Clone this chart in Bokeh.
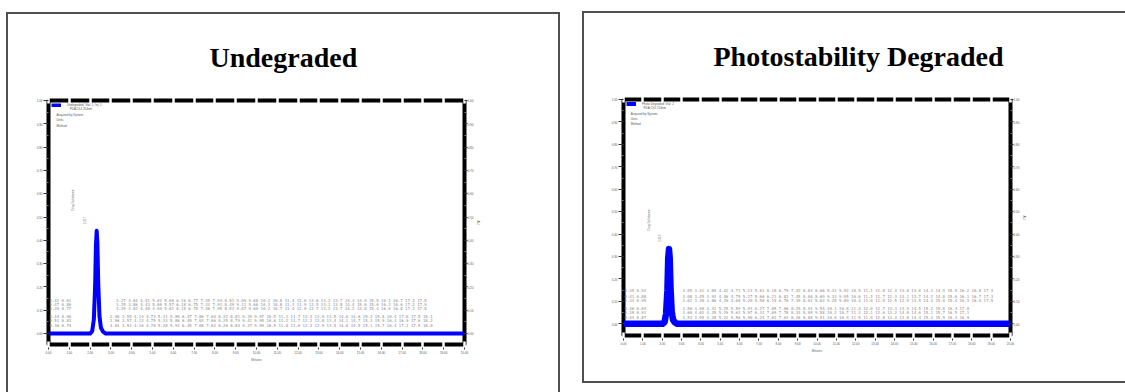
from math import pi

from bokeh.core.properties import value
from bokeh.embed import file_html
from bokeh.layouts import column, row
from bokeh.models import FixedTicker, LinearAxis, NumeralTickFormatter, Spacer
from bokeh.plotting import figure
from bokeh.resources import INLINE

# ---------------------------------------------------------------------------
# Chromatogram traces: retention time (min) and absorbance (AU)
# ---------------------------------------------------------------------------
undeg_time = [0.00, 2.00, 2.10, 2.18, 2.24, 2.28, 2.317, 2.35, 2.39, 2.45, 2.52, 2.62, 2.75, 20.00]
undeg_abs = [0.000, 0.000, 0.010, 0.060, 0.200, 0.380, 0.441, 0.390, 0.220, 0.075, 0.025, 0.008, 0.000, 0.000]

photo_time = [0.00, 2.02, 2.12, 2.20, 2.27, 2.31, 2.352, 2.39, 2.43, 2.49, 2.56, 2.66, 2.78, 20.00]
photo_abs = [0.000, 0.000, 0.008, 0.045, 0.150, 0.290, 0.333, 0.290, 0.160, 0.055, 0.018, 0.006, 0.000, 0.000]

undeg_rt = "2.317"
photo_rt = "2.352"
peak_name = "Drug Substance"

x_ticks = [0, 1, 2, 3, 4, 5, 6, 7, 8, 9, 10, 11, 12, 13, 14, 15, 16, 17, 18, 19, 20]
y_ticks = [0.0, 0.1, 0.2, 0.3, 0.4, 0.5, 0.6, 0.7, 0.8, 0.9, 1.0]
y_minor = [0.05, 0.15, 0.25, 0.35, 0.45, 0.55, 0.65, 0.75, 0.85, 0.95]

# header block printed in the upper-left corner of each plot
undeg_header = ["Undegraded; Vial: 1; Inj: 1", "PDA Ch1 254nm", "Acquired by System", "Units", "Method"]
photo_header = ["Photo Degraded; Vial: 2", "PDA Ch1 254nm", "Acquired by System", "Units", "Method"]

# retention-time labels of the small baseline peaks
undeg_rows_left = ["0.42 0.81", "0.47 0.86", "0.39 0.77", "0.44 0.90", "0.51 0.83", "0.36 0.79"]
undeg_rows = [
    "3.27 3.84 4.41 5.02 5.60 6.16 6.77 7.35  7.93 8.51  9.09 9.68 10.2 10.8 11.4 12.0 12.6  13.2 13.7 14.3  14.9 15.5 16.1  16.7  17.3 17.8",
    "3.25 3.86 4.43 5.00 5.57 6.18 6.75 7.33  7.91 8.49  9.11 9.66 10.3 10.8 11.3 11.9 12.5  13.1 13.8 14.4  15.0 15.6 16.2  16.6  17.2 17.9",
    "3.29 3.82 4.40 4.99 5.61 6.15 6.78 7.36  7.95 8.53  9.07 9.69 10.2 10.7 11.4 12.0 12.7  13.2 13.7 14.2  14.8 15.4 16.0  16.8  17.3 17.8",
    " 2.98 3.55 4.14 4.72 5.31 5.89 6.47 7.06  7.64 8.22  8.81 9.39 9.97 10.5 11.1 11.7 12.3 12.9 13.5 14.0 14.6 15.2 15.8 16.4 17.0 17.5 18.1",
    " 2.96 3.57 4.12 4.75 5.33 5.86 6.49 7.03  7.66 8.25  8.79 9.41 9.95 10.6 11.2 11.7 12.2 12.8 13.4 14.1 14.7 15.3 15.9 16.3 16.9 17.6 18.2",
    " 3.01 3.53 4.16 4.70 5.28 5.91 6.45 7.08  7.62 8.20  8.84 9.37 9.99 10.5 11.0 11.6 12.3 12.9 13.5 14.0 14.5 15.1 15.7 16.4 17.1 17.5 18.0",
]

photo_rows_left = ["0.35 0.92", "0.41 0.88", "0.33 0.95", "0.46 0.84", "0.38 0.91", "0.43 0.87"]
photo_rows = [
    "3.05  3.41  3.89  4.42 4.71  5.23 5.61  6.18 6.79 7.42 8.03 8.66 9.31 9.92 10.5 11.1 11.8 12.4 13.0 13.6 14.3 14.9 15.5 16.2 16.8 17.4",
    "3.08  3.45  3.93  4.46 4.75  5.27 5.66  6.21 6.83 7.45 8.08 8.69 9.33 9.95 10.6 11.2 11.7 12.3 13.1 13.7 14.2 14.8 15.6 16.1 16.7 17.3",
    "3.02  3.38  3.86  4.39 4.68  5.20 5.58  6.15 6.76 7.39 8.01 8.63 9.28 9.89 10.4 11.0 11.9 12.5 12.9 13.5 14.4 15.0 15.4 16.3 16.9 17.5",
    "   3.56 3.98 4.31  5.25 5.59 5.93 6.27  7.05 7.66 8.29 8.91 9.54 10.1 10.8 11.4 12.0 12.7 13.3 13.9 14.5 15.2 15.8 16.4 17.0",
    "   3.60 4.02 4.35  5.29 5.63 5.97 6.31  7.09 7.70 8.33 8.95 9.58 10.2 10.7 11.3 12.1 12.6 13.2 14.0 14.6 15.1 15.7 16.5 17.1",
    "   3.53 3.95 4.28  5.22 5.56 5.90 6.24  7.02 7.63 8.26 8.88 9.51 10.0 10.9 11.5 11.9 12.8 13.4 13.8 14.4 15.3 15.9 16.3 16.9",
]

BLUE = "#0000ff"
SMALL_FONT = "Liberation Sans"
MONO_FONT = "DejaVu Sans Mono"
BOX_LINE = "2px solid #505050"


def style_axis(ax, tick_out=5, standoff=1):
    ax.axis_line_color = None
    ax.major_tick_line_color = "#333333"
    ax.major_tick_line_width = 1
    ax.major_tick_out = tick_out
    ax.major_tick_in = 0
    ax.minor_tick_line_color = "#777777"
    ax.minor_tick_out = 2
    ax.minor_tick_in = 0
    ax.major_label_text_font = SMALL_FONT
    ax.major_label_text_font_size = "3px"
    ax.major_label_text_color = "#555555"
    ax.major_label_standoff = standoff
    ax.axis_label_text_font = SMALL_FONT
    ax.axis_label_text_font_size = "3px"
    ax.axis_label_text_font_style = "normal"
    ax.axis_label_text_color = "#666666"
    ax.axis_label_standoff = 2


def notch(ax):
    # white minor ticks cut small gaps through the heavy frame line
    ax.minor_tick_line_color = "white"
    ax.minor_tick_line_width = 2.5
    ax.minor_tick_in = 3
    ax.minor_tick_out = 3


def chromatogram(title, title_offset, width, height, borders, y_min,
                 t, a, line_w, rt, header, header_pos, rt_pos,
                 rows_left, rows, rows_x, rows_y):
    left, right, top, bottom = borders
    p = figure(width=width, height=height, x_range=(0, 20), y_range=(y_min, 1.0),
               output_backend="svg", toolbar_location=None,
               min_border_left=left, min_border_right=right,
               min_border_top=top, min_border_bottom=bottom,
               x_axis_label="Minutes")
    p.title.text = title
    p.title.align = "left"
    p.title.offset = title_offset
    p.title.standoff = 50
    p.title.vertical_align = "bottom"
    p.title.text_font = "Liberation Serif"
    p.title.text_font_size = "28px"
    p.title.text_font_style = "bold"
    p.title.text_color = "black"

    p.background_fill_color = "white"
    p.border_fill_color = "white"
    p.outline_line_color = "black"
    p.outline_line_width = 4
    p.outline_line_alpha = 1.0
    p.xgrid.visible = False
    p.ygrid.visible = False

    bottom_axis = p.below[0]
    left_axis = p.left[0]
    right_axis = LinearAxis(axis_label="AU")
    p.add_layout(right_axis, "right")

    bottom_axis.ticker = FixedTicker(ticks=x_ticks, minor_ticks=x_ticks)
    bottom_axis.formatter = NumeralTickFormatter(format="0.00")
    for ax in (left_axis, right_axis):
        ax.ticker = FixedTicker(ticks=y_ticks, minor_ticks=y_minor)
        ax.formatter = NumeralTickFormatter(format="0.00")
    style_axis(bottom_axis)
    style_axis(left_axis)
    style_axis(right_axis, tick_out=3, standoff=0)
    right_axis.axis_label_standoff = 0
    notch(bottom_axis)

    # unlabeled top axis: only white notches at each minute
    top_axis = LinearAxis(ticker=FixedTicker(ticks=[], minor_ticks=x_ticks),
                          axis_line_color=None, major_tick_line_color=None)
    notch(top_axis)
    p.add_layout(top_axis, "above")

    # minor-peak retention time rows along the baseline
    p.text(x=[0.05] * len(rows_left), y=rows_y, text=rows_left,
           text_font=value(MONO_FONT), text_font_size=value("4px"),
           text_color="#8a8a8a", text_align="left", text_baseline="middle")
    p.text(x=rows_x, y=rows_y, text=rows,
           text_font=value(MONO_FONT), text_font_size=value("4px"),
           text_color="#8a8a8a", text_align="left", text_baseline="middle")

    # trace
    p.line(t, a, line_color=BLUE, line_width=line_w, line_join="round",
           legend_label=header[0])

    # header lines below the legend entry
    hx, hy = header_pos
    p.text(x=hx, y=hy, text=header[1:],
           text_font=value(SMALL_FONT), text_font_size=value("3px"),
           text_color="#555555", text_align="left", text_baseline="middle")

    # vertical peak labels
    (nx, ny), (rx, ry) = rt_pos
    p.text(x=[nx, rx], y=[ny, ry], text=[peak_name, rt], angle=pi / 2,
           text_font=value(SMALL_FONT), text_font_size=value("3px"),
           text_color="#777777", text_align="center", text_baseline="middle")

    lg = p.legend[0]
    lg.location = "top_left"
    lg.margin = 3
    lg.padding = 0
    lg.spacing = 0
    lg.glyph_width = 10
    lg.glyph_height = 4
    lg.label_height = 4
    lg.label_standoff = 6
    lg.label_text_font = SMALL_FONT
    lg.label_text_font_size = "3px"
    lg.label_text_color = "#555555"
    lg.border_line_color = None
    lg.background_fill_alpha = 0
    return p


undeg = chromatogram(
    "Undegraded", 161, 554, 380, (40, 98, 85, 50), -0.047,
    undeg_time, undeg_abs, 4, undeg_rt,
    undeg_header,
    ([1.02, 0.39, 0.39, 0.39], [0.963, 0.940, 0.918, 0.892]),
    ((1.17, 0.573), (1.70, 0.485)),
    undeg_rows_left, undeg_rows,
    [3.25, 3.25, 3.25, 2.95, 2.95, 2.95],
    [0.142, 0.125, 0.108, 0.073, 0.056, 0.034],
)
undeg.styles = {"border-top": BOX_LINE, "border-left": BOX_LINE, "border-right": BOX_LINE}

photo = chromatogram(
    "Photostability Degraded", 90, 543, 372, (39, 117, 85, 50), -0.052,
    photo_time, photo_abs, 6.5, photo_rt,
    photo_header,
    ([1.04, 0.37, 0.37, 0.37], [0.964, 0.937, 0.914, 0.892]),
    ((1.28, 0.463), (1.87, 0.381)),
    photo_rows_left, photo_rows,
    [3.05, 3.05, 3.05, 3.05, 3.05, 3.05],
    [0.147, 0.124, 0.106, 0.070, 0.052, 0.029],
)
photo.styles = {"border-top": BOX_LINE, "border-left": BOX_LINE, "border-bottom": BOX_LINE}

page = row(
    Spacer(width=6),
    column(Spacer(height=12), undeg),
    Spacer(width=22),
    column(Spacer(height=11), photo),
)

open("out.html", "w").write(file_html(page, INLINE))
